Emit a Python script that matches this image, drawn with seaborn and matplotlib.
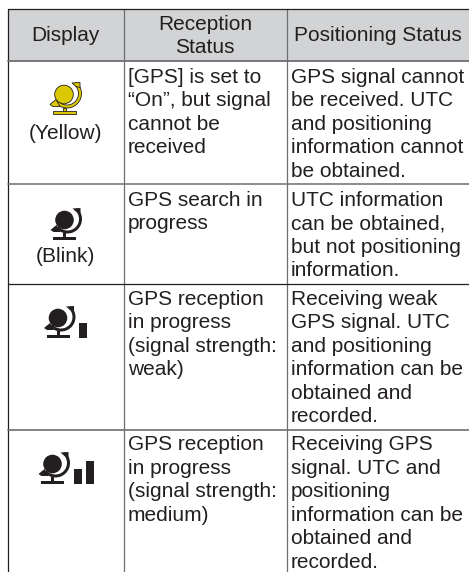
import matplotlib

matplotlib.use("Agg")
import matplotlib.pyplot as plt
from matplotlib.patches import Circle, Polygon, Rectangle, Wedge
import seaborn as sns

# table text, one list per cell, one string per printed line
headers = [["Display"], ["Reception", "Status"], ["Positioning Status"]]
display_notes = ["(Yellow)", "(Blink)", "", ""]
reception = [
    ["[GPS] is set to", "\u201cOn\u201d, but signal", "cannot be", "received"],
    ["GPS search in", "progress"],
    ["GPS reception", "in progress", "(signal strength:", "weak)"],
    ["GPS reception", "in progress", "(signal strength:", "medium)"],
]
positioning = [
    ["GPS signal cannot", "be received. UTC", "and positioning", "information cannot", "be obtained."],
    ["UTC information", "can be obtained,", "but not positioning", "information."],
    ["Receiving weak", "GPS signal. UTC", "and positioning", "information can be", "obtained and", "recorded."],
    ["Receiving GPS", "signal. UTC and", "positioning", "information can be", "obtained and", "recorded."],
]
signal_bars = [0, 0, 1, 2]

# layout in pixels of the page
COL_X = [7.5, 123.5, 286.5, 469]
ROW_Y = [8.5, 60.5, 183.5, 283.5, 430]
ROW_BASE = [83, 206, 305, 450.5]
GLOBE_XY = [(65, 94.5), (65.5, 220), (59, 318), (53.5, 464)]
NOTE_BASE = [139, 262]
PITCH = 23.4
INK = "#231f20"
GREY = "#6d6e71"
HEAD = "#d1d3d4"
YELLOW = "#dcc800"

sns.set_theme(style="white")
plt.rcParams["font.family"] = ["Liberation Sans", "DejaVu Sans"]
FS = 15


def rule(ax, xs, ys, color, lw):
    sns.lineplot(x=xs, y=ys, color=color, linewidth=lw, estimator=None, sort=False, ax=ax)


def draw_globe(ax, cx, cy, face):
    edge = INK
    lw = 0.6 if face != INK else 0
    ax.add_patch(Wedge((cx + 2, cy - 1), 14.5, -50, 140, width=3, fc=face, ec=edge, lw=lw))
    ax.add_patch(Polygon(
        [(cx + 7, cy - 11.5), (cx + 15, cy - 12), (cx + 15, cy - 7), (cx + 11, cy - 8)],
        fc=face, ec=edge, lw=lw))
    ax.add_patch(Polygon(
        [(cx - 15, cy + 10), (cx - 9, cy + 5), (cx - 5, cy + 12), (cx - 12, cy + 12)],
        fc=face, ec=edge, lw=lw))
    ax.add_patch(Rectangle((cx - 2.5, cy + 13), 3, 4, fc=face, ec=edge, lw=lw))
    ax.add_patch(Rectangle((cx - 12.5, cy + 16.5), 23, 3, fc=face, ec=edge, lw=lw))
    ax.add_patch(Circle((cx - 1, cy), 9.3, fc=face, ec=edge, lw=lw))


fig, ax = plt.subplots(figsize=(4.69, 5.72), dpi=100)
fig.subplots_adjust(left=0, right=1, top=1, bottom=0)
ax.set_xlim(0, 469)
ax.set_ylim(572, 0)
ax.axis("off")

ax.add_patch(Rectangle((COL_X[0], ROW_Y[0]), COL_X[3] - COL_X[0], ROW_Y[1] - ROW_Y[0], fc=HEAD, ec="none"))

rule(ax, [COL_X[0], COL_X[0]], [ROW_Y[0], 572], INK, 0.9)
rule(ax, [COL_X[1], COL_X[1]], [ROW_Y[0], 572], GREY, 0.9)
rule(ax, [COL_X[2], COL_X[2]], [ROW_Y[0], 572], GREY, 0.9)
rule(ax, [COL_X[0], COL_X[3]], [ROW_Y[0], ROW_Y[0]], INK, 0.9)
rule(ax, [COL_X[0], COL_X[3]], [ROW_Y[1], ROW_Y[1]], GREY, 1.3)
rule(ax, [COL_X[0], COL_X[3]], [ROW_Y[2], ROW_Y[2]], GREY, 1.1)
rule(ax, [COL_X[0], COL_X[3]], [ROW_Y[3], ROW_Y[3]], INK, 0.9)
rule(ax, [COL_X[0], COL_X[3]], [ROW_Y[4], ROW_Y[4]], GREY, 1.2)

ax.text(65, 41, headers[0][0], ha="center", va="baseline", fontsize=FS, color=INK)
ax.text(205, 30, headers[1][0], ha="center", va="baseline", fontsize=FS, color=INK)
ax.text(205, 53, headers[1][1], ha="center", va="baseline", fontsize=FS, color=INK)
ax.text(377.5, 41, headers[2][0], ha="center", va="baseline", fontsize=FS, color=INK)

for i, base in enumerate(ROW_BASE):
    for j, line in enumerate(reception[i]):
        ax.text(128, base + j * PITCH, line, va="baseline", fontsize=FS, color=INK)
    for j, line in enumerate(positioning[i]):
        ax.text(291, base + j * PITCH, line, va="baseline", fontsize=FS, color=INK)
    cx, cy = GLOBE_XY[i]
    draw_globe(ax, cx, cy, YELLOW if i == 0 else INK)
    for b in range(signal_bars[i]):
        height = 14.5 if b == 0 else 23
        ax.add_patch(Rectangle((cx + 20 + b * 12, cy + 19.5 - height), 8, height, fc=INK, ec="none"))
    if display_notes[i]:
        ax.text(65, NOTE_BASE[i], display_notes[i], ha="center", va="baseline", fontsize=FS, color=INK)

fig.savefig("out.png", dpi=100)
